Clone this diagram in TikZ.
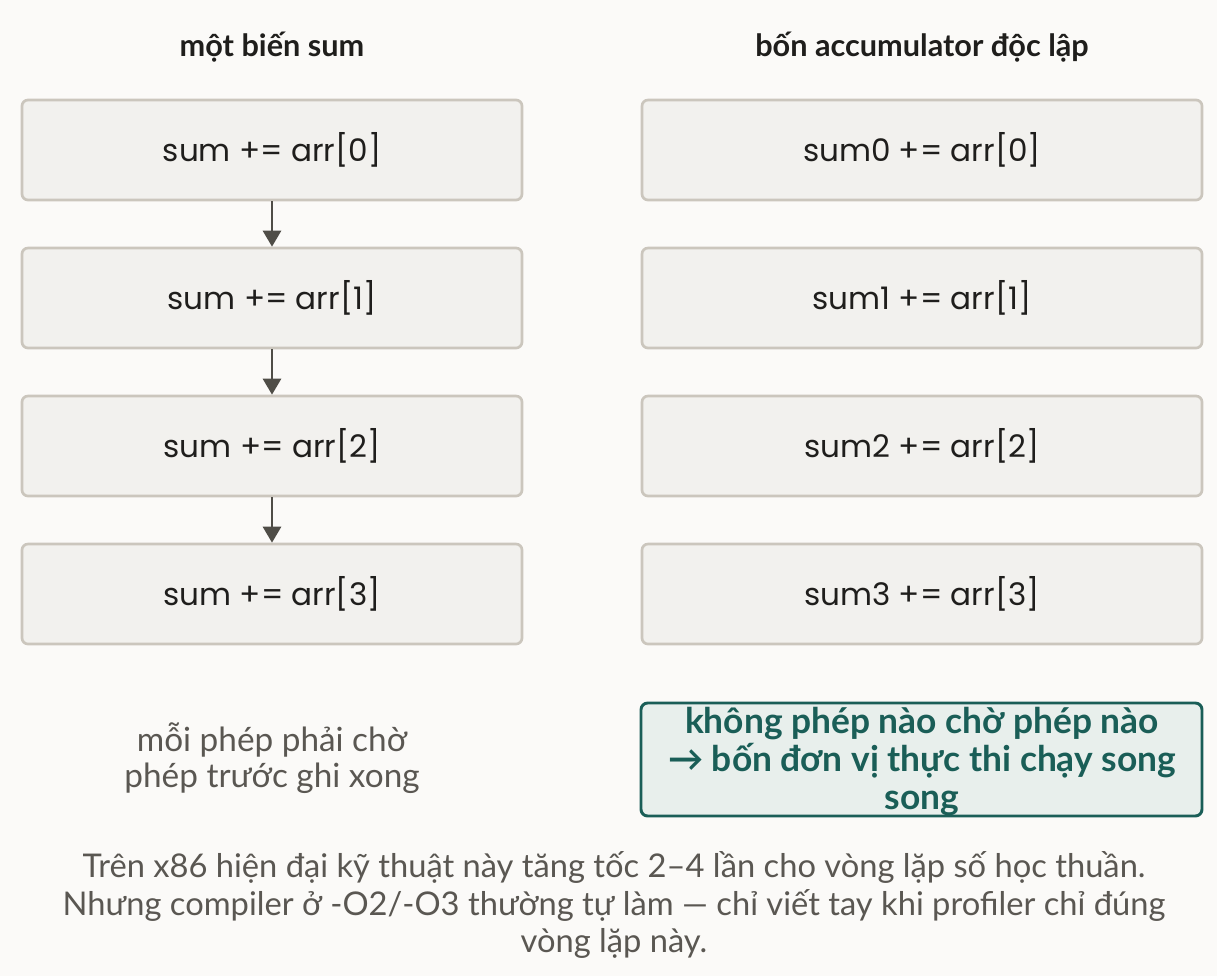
\documentclass[tikz,border=0pt]{standalone}
\usepackage{fontspec}
\setmainfont{Lato}
\newfontfamily\codefont{Poppins}
\usepackage{xcolor}
\usetikzlibrary{arrows.meta}

\definecolor{paperbg}{HTML}{FBFAF8}
\definecolor{boxline}{HTML}{CBC6BD}
\definecolor{boxfill}{HTML}{F2F1EE}
\definecolor{arrowgray}{HTML}{4F4D47}
\definecolor{inkdark}{HTML}{1F1E1C}
\definecolor{notegray}{HTML}{5A5752}
\definecolor{tealline}{HTML}{1A5E57}
\definecolor{tealfill}{HTML}{E8EFEC}

\begin{document}
\begin{tikzpicture}[x=0.75pt,y=-0.75pt,
  stepbox/.style={draw=boxline,fill=boxfill,line width=2pt,rounded corners=4.5pt,
    minimum height=75pt,font=\codefont\fontsize{23.3}{27}\selectfont,text=inkdark},
  leftbox/.style={stepbox,minimum width=375pt},
  rightbox/.style={stepbox,minimum width=420pt},
  flow/.style={arrowgray,line width=2.2pt,-{Triangle[length=12pt,width=13.5pt]}},
  coltitle/.style={font=\bfseries\fontsize{23}{27}\selectfont,text=inkdark}]

% Background
\fill[paperbg] (0,0) rectangle (1217,976);
\useasboundingbox (0,0) rectangle (1217,976);

% Column titles
\node[coltitle] (ltitle) at (272,47) {một biến sum};
\node[coltitle] (rtitle) at (922,47) {bốn accumulator độc lập};

% Left column: one sum, chained
\node[leftbox] (l0) at (272,150) {sum += arr[0]};
\node[leftbox] (l1) at (272,298) {sum += arr[1]};
\node[leftbox] (l2) at (272,446) {sum += arr[2]};
\node[leftbox] (l3) at (272,594) {sum += arr[3]};

\draw[flow] (l0) -- (l1);
\draw[flow] (l1) -- (l2);
\draw[flow] (l2) -- (l3);

% Right column: four independent sums
\node[rightbox] (r0) at (922,150) {sum0 += arr[0]};
\node[rightbox] (r1) at (922,298) {sum1 += arr[1]};
\node[rightbox] (r2) at (922,446) {sum2 += arr[2]};
\node[rightbox] (r3) at (922,594) {sum3 += arr[3]};

% Notes under the columns
\node[text=notegray,align=center,font=\fontsize{25}{27}\selectfont] (lnote) at (272,758)
  {mỗi phép phải chờ\\phép trước ghi xong};

\draw[tealline,fill=tealfill,line width=2.2pt,rounded corners=5pt] (641,703) rectangle (1202,816);
\node[text=tealline,align=center,font=\bfseries\fontsize{26.5}{28.5}\selectfont] (rnote) at (922,762)
  {không phép nào chờ phép nào\\→ bốn đơn vị thực thi chạy song\\song};

% Footer
\node[text=notegray,align=center,font=\fontsize{24.5}{28}\selectfont] (footer) at (614,905)
  {Trên x86 hiện đại kỹ thuật này tăng tốc 2–4 lần cho vòng lặp số học thuần.\\
   Nhưng compiler ở -O2/-O3 thường tự làm — chỉ viết tay khi profiler chỉ đúng\\
   vòng lặp này.};

\end{tikzpicture}
\end{document}
